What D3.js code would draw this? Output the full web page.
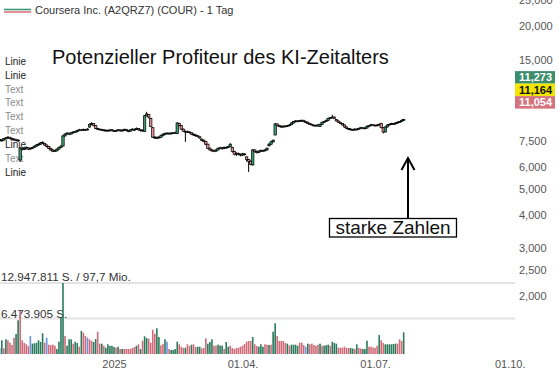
<!DOCTYPE html>
<html lang="de">
<head>
<meta charset="UTF-8">
<title>Coursera Inc. (COUR)</title>
<script src="https://cdn.jsdelivr.net/npm/d3@7"></script>
<style>
  body { margin: 0; background: #fff; }
  svg { display: block; font-family: "Liberation Sans", Arial, sans-serif; }
</style>
</head>
<body>
<svg id="chart" width="559" height="374"></svg>
<script>
// daily candles [open, high, low, close], one per weekday starting 16.10.2024
var ohlc = [
  [7.60,7.66,7.50,7.55],
  [7.55,7.62,7.48,7.55],[7.56,7.70,7.52,7.65],[7.64,7.76,7.60,7.70],[7.70,7.82,7.64,7.75],[7.74,7.78,7.60,7.65],
  [7.66,7.72,7.56,7.62],[7.62,7.68,7.52,7.58],[7.58,7.64,7.48,7.55],[7.55,7.62,7.44,7.50],[6.38,7.12,6.28,7.07],
  [7.04,7.10,6.92,6.98],[6.98,7.08,6.94,7.02],[7.02,7.16,6.98,7.10],[7.08,7.12,6.94,7.00],
  [7.00,7.10,6.96,7.05],[7.05,7.14,7.00,7.10],[7.10,7.22,7.06,7.18],[7.18,7.30,7.14,7.25],[7.25,7.36,7.20,7.30],
  [7.30,7.44,7.26,7.38],[7.38,7.48,7.32,7.42],[7.35,7.38,7.20,7.25],[7.25,7.28,7.10,7.15],
  [7.15,7.18,7.00,7.05],[7.05,7.08,6.90,6.95],[6.95,7.00,6.82,6.88],[6.88,6.96,6.84,6.90],[6.90,7.04,6.86,7.00],
  [7.00,7.14,6.96,7.10],[7.10,7.24,7.06,7.18],[7.19,7.90,7.15,7.83],[7.84,8.02,7.78,7.95],
  [8.00,8.08,7.94,8.02],[8.02,8.04,7.88,7.95],[7.96,8.10,7.92,8.05],[8.05,8.16,8.00,8.10],[8.10,8.18,8.04,8.12],
  [8.12,8.26,8.08,8.20],[8.20,8.32,8.16,8.25],[8.25,8.30,8.16,8.22],[8.22,8.34,8.18,8.28],[8.28,8.32,8.18,8.25],
  [8.25,8.36,8.20,8.30],[8.45,8.70,8.40,8.65],[8.65,8.80,8.58,8.70],[8.70,8.74,8.50,8.55],
  [8.55,8.58,8.30,8.35],[8.35,8.40,8.24,8.30],[8.30,8.34,8.24,8.28],[8.28,8.32,8.18,8.25],[8.25,8.30,8.14,8.20],
  [8.20,8.28,8.14,8.22],[8.22,8.26,8.12,8.18],[8.18,8.30,8.14,8.24],[8.26,8.30,8.14,8.20],
  [8.20,8.24,8.10,8.15],[8.15,8.26,8.10,8.20],[8.20,8.30,8.16,8.25],[8.25,8.28,8.12,8.18],[8.18,8.28,8.14,8.22],
  [8.22,8.34,8.18,8.28],[8.28,8.32,8.14,8.20],[8.20,8.24,8.08,8.15],[8.15,8.30,8.10,8.25],[8.25,8.36,8.20,8.30],
  [8.22,8.34,8.18,8.28],[8.28,8.42,8.24,8.35],[8.35,8.38,8.20,8.25],[8.25,8.30,8.12,8.20],
  [8.20,8.28,8.14,8.22],[8.15,9.35,8.10,9.30],[9.30,9.62,9.25,9.45],[9.40,9.44,9.10,9.20],[9.10,9.16,8.45,8.50],
  [8.40,8.46,7.70,7.75],[7.75,7.82,7.64,7.70],[7.68,7.80,7.64,7.72],[7.72,7.82,7.66,7.75],
  [7.75,7.92,7.70,7.85],[7.85,8.00,7.80,7.95],[7.95,8.06,7.90,8.00],[8.00,8.08,7.94,8.02],[8.02,8.06,7.92,7.98],
  [7.98,8.08,7.94,8.02],[8.02,8.10,7.96,8.05],[8.05,8.12,7.98,8.02],[8.00,8.80,7.96,8.75],
  [8.70,8.76,8.50,8.55],[8.55,8.58,8.24,8.30],[8.30,8.34,8.10,8.15],[8.15,8.20,7.45,8.12],[8.12,8.20,8.04,8.10],
  [8.10,8.14,8.00,8.05],[8.05,8.08,7.90,7.95],[7.95,8.00,7.84,7.90],[7.90,7.94,7.78,7.85],[7.85,7.88,7.74,7.80],
  [7.78,7.80,7.64,7.70],[7.62,7.66,7.50,7.55],[7.55,7.60,7.42,7.48],[7.48,7.50,7.24,7.30],
  [7.30,7.32,7.00,7.05],[7.05,7.10,6.90,6.95],[6.95,7.00,6.84,6.90],[6.90,6.96,6.82,6.88],[6.88,7.00,6.84,6.95],
  [6.95,7.10,6.92,7.05],[7.05,7.14,7.00,7.08],[7.08,7.12,6.96,7.02],[7.05,7.16,7.00,7.10],
  [7.10,7.16,7.04,7.10],[7.10,7.20,7.06,7.15],[7.15,7.36,7.12,7.30],[7.10,7.14,6.80,6.85],[6.85,6.90,6.64,6.70],
  [6.70,6.82,6.60,6.75],[6.75,6.80,6.64,6.70],[6.70,6.74,6.58,6.65],[6.65,6.78,6.60,6.72],[6.72,6.76,6.62,6.68],
  [6.55,6.58,6.30,6.40],[6.40,6.44,5.76,6.30],[6.30,6.36,6.10,6.15],[6.12,7.00,6.08,6.95],
  [6.95,6.98,6.80,6.85],[6.85,6.90,6.74,6.80],[6.80,6.92,6.76,6.88],[6.88,6.98,6.84,6.92],[6.92,6.96,6.84,6.90],
  [6.90,7.00,6.86,6.95],[6.95,7.10,6.92,7.05],[7.20,7.36,7.16,7.30],[7.30,7.50,7.26,7.45],
  [7.45,7.60,7.40,7.55],[7.90,8.75,7.86,8.67],[8.67,8.72,8.50,8.55],[8.55,8.60,8.44,8.50],[8.50,8.56,8.40,8.45],
  [8.45,8.58,8.42,8.52],[8.52,8.56,8.44,8.50],[8.50,8.60,8.46,8.55],[8.55,8.66,8.50,8.60],
  [8.62,8.80,8.58,8.75],[8.75,8.90,8.70,8.85],[8.85,8.96,8.80,8.90],[8.90,8.94,8.82,8.88],[8.88,8.98,8.84,8.92],
  [8.92,9.00,8.86,8.95],[8.95,8.98,8.80,8.85],[8.85,8.88,8.74,8.80],[8.80,8.84,8.66,8.70],[8.70,8.74,8.60,8.65],
  [8.65,8.68,8.56,8.60],[8.55,8.64,8.52,8.58],[8.58,8.62,8.48,8.52],[8.52,8.66,8.50,8.60],
  [8.50,8.70,8.46,8.65],[8.65,8.84,8.60,8.80],[8.80,8.90,8.76,8.85],[8.85,9.00,8.82,8.95],[8.95,9.16,8.90,9.10],
  [9.10,9.20,9.04,9.15],[9.15,9.38,9.10,9.20],[9.20,9.24,9.06,9.10],[9.00,9.04,8.86,8.90],
  [8.90,8.94,8.76,8.80],[8.80,8.84,8.66,8.70],[8.70,8.74,8.56,8.60],[8.60,8.64,8.40,8.45],[8.45,8.50,8.30,8.35],
  [8.35,8.38,8.24,8.30],[8.30,8.36,8.22,8.28],[8.28,8.32,8.18,8.25],[8.25,8.36,8.20,8.30],[8.30,8.34,8.22,8.28],
  [8.30,8.40,8.26,8.35],[8.35,8.46,8.30,8.40],[8.40,8.44,8.30,8.35],[8.35,8.42,8.30,8.38],
  [8.38,8.56,8.34,8.50],[8.50,8.60,8.46,8.55],[8.55,8.68,8.50,8.62],[8.62,8.66,8.52,8.58],[8.58,8.62,8.50,8.55],
  [8.55,8.66,8.50,8.60],[8.60,8.70,8.54,8.65],[8.72,8.76,8.36,8.40],[8.40,8.44,8.00,8.10],
  [8.10,8.52,8.06,8.45],[8.45,8.66,8.42,8.60],[8.60,8.70,8.56,8.65],[8.65,8.76,8.60,8.70],[8.70,8.74,8.60,8.68],
  [8.68,8.80,8.64,8.75],[8.75,8.86,8.70,8.80],[8.80,8.90,8.76,8.85],[8.85,9.00,8.80,8.95],[8.95,9.06,8.90,9.02]
];

// volume in million shares, same days
var volumes = [
  1.04,
  2.50,1.04,2.68,2.50,2.06, 1.64,2.97,3.65,6.15,7.84, 2.50,2.01,1.77,1.46, 3.28,1.88,1.95,2.06,2.50,
  2.19,3.78,2.06,2.97, 1.70,1.61,1.70,1.51,0.91, 2.24,6.62,12.95,3.28, 1.51,2.68,2.68,1.88,2.24,
  2.01,1.33,4.20,3.89,3.28, 2.97,2.68,2.43,2.19, 2.74,4.07,1.88,1.88,1.51, 1.15,1.77,1.46,1.51,
  1.28,1.15,1.33,0.91,0.91, 0.91,0.91,0.91,0.91,1.09, 1.28,1.51,1.77,0.91, 2.43,3.23,2.92,2.79,2.06,
  4.43,3.70,4.69,3.10, 1.59,1.82,2.68,2.24,0.91, 0.73,0.73,0.91,2.24, 1.77,1.33,1.09,1.15,1.77,
  1.46,1.70,1.77,1.28,1.33, 1.33,1.04,1.09,2.86, 1.88,2.19,2.68,1.51,1.51, 1.70,1.55,1.51,0.91,
  2.19,1.33,1.51,1.09,0.91, 1.09,1.15,1.33,1.51,1.82, 2.24,2.37,2.37,3.10, 1.77,1.46,1.33,1.77,1.33,
  1.77,1.70,1.64,1.70, 4.07,5.60,3.28,2.37,2.37, 2.37,2.01,1.88,1.51, 1.70,1.70,1.70,1.51,2.06,
  2.06,1.64,1.33,1.88,1.77, 1.88,1.64,1.51,1.70, 1.88,1.51,1.51,1.61,1.70, 1.51,2.24,2.01,1.88,
  1.15,1.15,1.15,1.33,1.09, 1.09,1.09,1.00,0.91,1.77, 1.09,1.00,0.91,0.91, 2.43,1.33,1.33,1.19,1.09,
  1.51,3.47,2.50,2.01, 1.77,1.77,1.77,1.77,1.82, 1.88,1.88,2.68,2.37,3.96
];

// bar colour per day: g = up, r = down, b = unchanged
var volColors = ("b grgrr rrggr rrrr bgggg ggrb rrrrg gggr gggrg grgrr brrg grrgr gggg grgrg rrrrr " +
  "rgrg rggrr rrgg rrgbr gggg rrrgr rgrrg grrr gggrr gggr ggrrr rrrrr rrrg rrggg rrgr ggrrr " +
  "rrgr ggggr rrbgr rrrr grggg rggg rrrrr rggrg rrgg grrrr rgrr ggggg grrrg").replace(/ /g, "").split("");

var startDate = Date.UTC(2024, 9, 16);
var priceTicks = [25, 20, 15, 7.5, 6, 5, 4, 3, 2.5, 2];
var dateTicks = [Date.UTC(2025, 0, 2), Date.UTC(2025, 3, 1), Date.UTC(2025, 6, 1), Date.UTC(2025, 9, 1)];
var dateTickLabels = ["2025", "01.04.", "01.07.", "01.10."];
var quoteValues = [11.273, 11.164, 11.054];
var quoteColors = ["#3b8d6c", "#f2e500", "#d4727d"];
var quoteTextColors = ["#fff", "#111", "#fff"];
var sideLabels = ["Linie", "Linie", "Text", "Text", "Text", "Text", "Linie", "Text", "Linie"];
var volLevels = [12947811, 6473905];
var volTurnover = "97,7 Mio.";

var de = d3.formatLocale({decimal: ",", thousands: ".", grouping: [3], currency: ["", " €"]});
var fmtPrice = de.format(".3f");
var fmtShares = de.format(",d");

var svg = d3.select("#chart");

// weekday index counted from the first candle
function dayIndex(t) {
  var n = 0, d = new Date(startDate);
  while (d.getTime() < t) {
    var w = d.getUTCDay();
    if (w !== 0 && w !== 6) n++;
    d.setUTCDate(d.getUTCDate() + 1);
  }
  return n;
}

var step = 2.04;
var xScale = d3.scaleLinear().domain([0, 250]).range([-0.24, -0.24 + 250 * step]);
var yScale = d3.scaleLog().domain([2, 20]).range([296, 26]);
var vScale = d3.scaleLinear().domain([0, volLevels[0] / 1e6]).range([354, 283]);

// legend
svg.append("line").attr("x1", 4).attr("x2", 31).attr("y1", 9.5).attr("y2", 9.5)
  .attr("stroke", "#3b9a74").attr("stroke-width", 1.6);
svg.append("line").attr("x1", 4).attr("x2", 31).attr("y1", 12).attr("y2", 12)
  .attr("stroke", "#e07480").attr("stroke-width", 1.6);
svg.append("text").attr("x", 35).attr("y", 13.5).attr("font-size", 11).attr("fill", "#333")
  .text("Coursera Inc. (A2QRZ7) (COUR) - 1 Tag");

// title
svg.append("text").attr("x", 52).attr("y", 64).attr("font-size", 20).attr("fill", "#111")
  .text("Potenzieller Profiteur des KI-Zeitalters");

// drawing tool labels on the left
svg.selectAll("text.side").data(sideLabels).enter().append("text")
  .attr("class", "side")
  .attr("x", 5)
  .attr("y", function(d, i) { return 64.6 + i * 13.95; })
  .attr("font-size", 10)
  .attr("fill", function(d) { return d === "Linie" ? "#222" : "#8a8a8a"; })
  .text(function(d) { return d; });

// volume reference lines
volLevels.forEach(function(v) {
  svg.append("line").attr("x1", 0).attr("x2", 515)
    .attr("y1", vScale(v / 1e6)).attr("y2", vScale(v / 1e6))
    .attr("stroke", "#e3e3e3").attr("stroke-width", 2);
});
svg.append("text").attr("x", 1).attr("y", vScale(volLevels[0] / 1e6) - 2.5).attr("font-size", 11.7).attr("fill", "#333")
  .text(fmtShares(volLevels[0]) + " S. / " + volTurnover);
svg.append("text").attr("x", 1).attr("y", vScale(volLevels[1] / 1e6) - 1).attr("font-size", 11.7).attr("fill", "#333")
  .text(fmtShares(volLevels[1]) + " S.");

// volume bars
var volColor = {g: "#2b7a5c", r: "#cf6b78", b: "#6b94e0"};
svg.append("g").selectAll("rect").data(volumes).enter().append("rect")
  .attr("x", function(d, i) { return xScale(i) - 0.8; })
  .attr("width", 1.6)
  .attr("y", function(d) { return vScale(d); })
  .attr("height", function(d) { return vScale(0) - vScale(d); })
  .attr("fill", function(d, i) { return volColor[volColors[i]]; });

// candles
var candles = svg.append("g").selectAll("g").data(ohlc).enter().append("g");
candles.append("line")
  .attr("x1", function(d, i) { return xScale(i); })
  .attr("x2", function(d, i) { return xScale(i); })
  .attr("y1", function(d) { return yScale(d[1]); })
  .attr("y2", function(d) { return yScale(d[2]); })
  .attr("stroke", "#000").attr("stroke-width", 1);
candles.append("rect")
  .attr("x", function(d, i) { return xScale(i) - 1.2; })
  .attr("width", 2.4)
  .attr("y", function(d) { return yScale(Math.max(d[0], d[3])); })
  .attr("height", function(d) { return Math.max(0.8, Math.abs(yScale(d[0]) - yScale(d[3]))); })
  .attr("fill", function(d) { return d[3] >= d[0] ? "#3c9c74" : "#e8909a"; })
  .attr("stroke", "#000").attr("stroke-width", 0.7);

// price axis
var yAxis = d3.axisRight(yScale).tickValues(priceTicks).tickFormat(fmtPrice).tickSize(0).tickPadding(0);
var ya = svg.append("g").attr("transform", "translate(519,0)").call(yAxis);
ya.select(".domain").remove();
ya.selectAll("text").attr("font-size", 11).attr("fill", "#555").attr("font-family", null);

// quote labels
var qMid = yScale(quoteValues[1]) - 4.5;
quoteValues.forEach(function(v, i) {
  var cy = qMid + (i - 1) * 12.5;
  svg.append("rect").attr("x", 515).attr("y", cy - 6.25).attr("width", 40).attr("height", 12.5)
    .attr("fill", quoteColors[i]);
  svg.append("text").attr("x", 519).attr("y", cy + 4).attr("font-size", 11).attr("font-weight", "bold")
    .attr("fill", quoteTextColors[i]).text(fmtPrice(v));
});

// date axis
var xAxis = d3.axisBottom(xScale)
  .tickValues(dateTicks.map(dayIndex))
  .tickFormat(function(d, i) { return dateTickLabels[i]; })
  .tickSize(0).tickPadding(3);
var xa = svg.append("g").attr("transform", "translate(0,357)").call(xAxis);
xa.select(".domain").remove();
xa.selectAll("text").attr("font-size", 11).attr("fill", "#555").attr("font-family", null);

// annotation
var ax = xScale(ohlc.length - 1) + 4.3;
svg.append("line").attr("x1", ax).attr("x2", ax).attr("y1", 218).attr("y2", 158)
  .attr("stroke", "#000").attr("stroke-width", 2);
svg.append("path").attr("d", "M" + (ax - 6.5) + ",170L" + ax + ",158L" + (ax + 6.5) + ",170")
  .attr("fill", "none").attr("stroke", "#000").attr("stroke-width", 2);
svg.append("rect").attr("x", ax - 78.5).attr("y", 218.5).attr("width", 127).attr("height", 18.5)
  .attr("fill", "#fff").attr("stroke", "#000").attr("stroke-width", 1.3);
svg.append("text").attr("x", ax - 15).attr("y", 234).attr("text-anchor", "middle")
  .attr("font-size", 19).attr("fill", "#111").text("starke Zahlen");
</script>
</body>
</html>
